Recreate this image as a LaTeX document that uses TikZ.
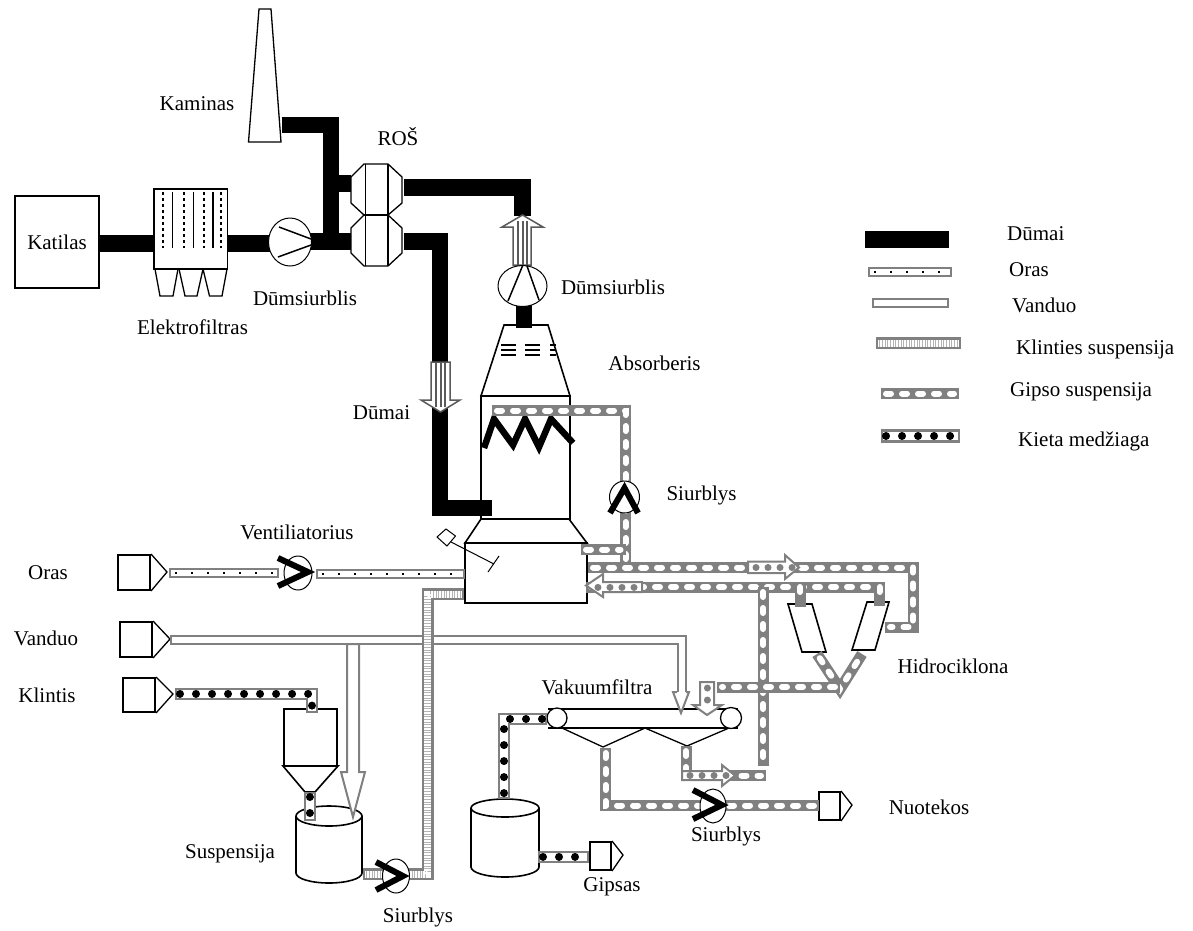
\documentclass[tikz,border=0pt]{standalone}
\usepackage{fontspec}
\setmainfont{Liberation Serif}
\usetikzlibrary{shapes.geometric}
\definecolor{pipegray}{HTML}{808080}
\definecolor{checkgray}{HTML}{B4B4B4}
\definecolor{stripegray}{HTML}{5A5A5A}

\begin{document}
\begin{tikzpicture}[
    x=1pt, y=-1pt,
    every node/.style={font=\fontsize{21}{23}\selectfont},
    vessel/.style={draw=black, line width=1.6pt, line join=miter},
    thinvessel/.style={draw=black, line width=1pt},
    sourcebox/.style={rectangle, draw=black, line width=2pt, inner sep=0pt},
    pumpbody/.style={ellipse, draw=black, fill=white, line width=1pt, inner sep=0pt},
    impeller/.style={black, line width=6pt, line join=miter},
    smokepipe/.style={black, line width=16.5pt},
    airpipe/.style={pipegray, line width=10pt,
      postaction={draw=white, line width=6pt, shorten >=2pt, shorten <=2pt},
      postaction={draw=black, line width=2pt, dash pattern=on 2pt off 14pt, dash phase=-6pt}},
    waterpipe/.style={pipegray, line width=10pt,
      postaction={draw=white, line width=6pt, shorten >=2pt, shorten <=2pt}},
    limepipe/.style={pipegray, line width=12pt,
      postaction={draw=checkgray, line width=7pt, shorten >=2pt, shorten <=2pt},
      postaction={draw=white, line width=7pt, shorten >=2pt, shorten <=2pt, dash pattern=on 0.7pt off 0.9pt}},
    gypsumpipe/.style={pipegray, line width=11pt,
      postaction={draw=white, line width=6pt, line cap=round, shorten >=5pt, shorten <=5pt, dash pattern=on 5pt off 11pt}},
    solidpipe/.style={pipegray, line width=12pt,
      postaction={draw=white, line width=8pt, shorten >=2pt, shorten <=2pt},
      postaction={draw=black, line cap=round, line width=8pt, shorten >=5pt, shorten <=5pt, dash pattern=on 0.01pt off 16pt}},
    flowarrow/.style={draw=pipegray, fill=white, line width=2pt, line join=miter},
    flowdots/.style={pipegray, line width=7pt, line cap=round, dash pattern=on 0.01pt off 12pt}
]
\useasboundingbox (0,0) rectangle (1193,930);

% Chimney
\draw[thinvessel, line width=1.3pt] (259,9) -- (271,9) -- (281,142) -- (248.5,142) -- cycle;

% Boiler
\node[sourcebox, minimum width=84pt, minimum height=92pt] (katilas) at (57,242) {Katilas};

% Electrostatic filter
\draw[thinvessel, line width=1.3pt] (154,189) rectangle (227.5,269);
\foreach \x in {163,184,204,221}
  \draw[black, line width=1.2pt, dashed] (\x,192) -- (\x,248);
\foreach \x in {172.5,193.5,213}
  \draw[black, line width=1.6pt] (\x,192) -- (\x,248);
\foreach \xa/\xb/\xc/\xd in {155/178/173/160,179/203/197/185,203/227/222/209.5}
  \draw[thinvessel, line width=1.3pt] (\xa,269) -- (\xd,296) -- (\xc,296) -- (\xb,269);

% Gas heater
\draw[thinvessel, line width=1.3pt] (364,164) -- (388,164) -- (402,177) -- (402,203) -- (388,215) -- (402,228)
  -- (402,253) -- (388,266) -- (364,266) -- (351,253) -- (351,228) -- (364,215) -- (351,203) -- (351,177) -- cycle;
\draw[thinvessel, line width=1.3pt] (364,215) -- (388,215);
\draw[thinvessel, line width=1.3pt] (365.5,164) -- (365.5,266);
\draw[thinvessel, line width=1.3pt] (388,164) -- (388,266);

% Absorber
\draw[vessel] (504,325) -- (548,325) -- (570,396) -- (481,396) -- cycle;
\draw[vessel] (481,396) rectangle (570,519);
\draw[vessel] (481,519) -- (465,543) -- (587,543) -- (569,519);
\draw[vessel] (465,543) rectangle (587,603);
\foreach \y in {345,350,355} {
  \draw[black, line width=1.6pt] (501,\y) -- (516,\y);
  \draw[black, line width=1.6pt] (525,\y) -- (540,\y);
  \draw[black, line width=1.6pt] (550,\y) -- (556,\y);
}
\draw[black, line width=6.5pt, line join=miter] (484,448) -- (494,419) -- (513,445) -- (525,419) -- (539,447) -- (551,419) -- (573,443);

% Mixer
\draw[thinvessel] (437,537) -- (446,529) -- (455.5,536) -- (447,546) -- cycle;
\draw[thinvessel] (451,542) -- (494,564);
\draw[thinvessel] (499,556) -- (488,572);

% Silo and tanks
\draw[vessel] (284,709) rectangle (337,766);
\draw[vessel] (283,766) -- (338,766) -- (315,792) -- (305,792) -- cycle;
\draw[vessel, fill=white] (329,816) ellipse (33 and 10);
\draw[vessel] (296,816) -- (296,873) arc[start angle=180, end angle=0, x radius=33, y radius=10] -- (362,816);
\draw[vessel, fill=white] (505,808) ellipse (34 and 9);
\draw[vessel] (471,808) -- (471,867) arc[start angle=180, end angle=0, x radius=34, y radius=10] -- (539,808);

% Vacuum filter
\draw[vessel] (548,709) -- (738,709);
\draw[vessel] (548,728) -- (738,728);
\draw[thinvessel, line width=1.3pt] (562,728) -- (603,747) -- (645,728) -- (687,746) -- (729,728);
\node[circle, draw=black, fill=white, line width=1.3pt, minimum size=20pt, inner sep=0pt] (rollera) at (557,718) {};
\node[circle, draw=black, fill=white, line width=1.3pt, minimum size=21pt, inner sep=0pt] (rollerb) at (731,718) {};

% Hydrocyclones
\draw[vessel] (802,652) -- (788,604) -- (812,604) -- (826,652) -- cycle;
\draw[vessel] (852,650) -- (867,602) -- (889,602) -- (875,650) -- cycle;

% Feed and discharge units
\node[sourcebox, minimum width=32pt, minimum height=35pt] (orasbox) at (134,572.5) {};
\node[sourcebox, minimum width=32pt, minimum height=35pt] (vanduobox) at (136,639.5) {};
\node[sourcebox, minimum width=32pt, minimum height=34pt] (klintisbox) at (139,695) {};
\node[sourcebox, minimum width=21pt, minimum height=28pt] (gipsasbox) at (600.5,856) {};
\node[sourcebox, minimum width=21pt, minimum height=28pt] (nuotekosbox) at (829.5,806) {};
\foreach \n/\w/\h in {orasbox/16/18,vanduobox/17/18,klintisbox/17/17,gipsasbox/11/14,nuotekosbox/11/14}
  \draw[thinvessel, line width=1.3pt] (\n.north east) -- ++(\w,\h) -- (\n.south east);

% Smoke ducts
\coordinate (katilasout) at (99,243.5);
\coordinate (filterin) at (154,243.5);
\coordinate (filterout) at (227.5,243.5);
\coordinate (fanain) at (270,243.5);
\coordinate (fanaout) at (310,241.5);
\coordinate (heaterin) at (351,241.5);
\coordinate (heaterout) at (404,241.5);
\coordinate (absorberin) at (492,508);
\coordinate (chimneyin) at (281.5,125);
\coordinate (heatertop) at (351,183.5);
\coordinate (heatergas) at (404,187.5);
\coordinate (fanbin) at (522.5,216);
\coordinate (fanbout) at (524,305);
\coordinate (absorbertop) at (524,328);
\draw[smokepipe] (katilasout) -- (filterin);
\draw[smokepipe] (filterout) -- (fanain);
\draw[smokepipe] (fanaout) -- (heaterin);
\draw[smokepipe] (chimneyin) -| (331,250);
\draw[smokepipe] (331,183.5) -- (heatertop);
\draw[smokepipe] (heatergas) -| (fanbin);
\draw[smokepipe] (fanbout) -- (absorbertop);
\draw[smokepipe] (heaterout) -| (440,508) -- (absorberin);

% Smoke flow arrows
\draw[flowarrow, draw=stripegray, line width=1.5pt] (513,265) -- (513,227) -- (502,227) -- (522.5,215) -- (543,227) -- (531,227) -- (531,265) -- cycle;
\foreach \x in {518,522.5,527}
  \draw[stripegray, line width=2pt] (\x,221) -- (\x,265);
\draw[flowarrow, draw=stripegray, line width=1.5pt] (431,362) -- (431,400) -- (421,400) -- (440.5,412) -- (460,400) -- (450,400) -- (450,362) -- cycle;
\foreach \x in {436,440.5,445}
  \draw[stripegray, line width=2pt] (\x,362) -- (\x,407);

% Air line
\coordinate (orasout) at (169,572.5);
\coordinate (ventin) at (279,572.5);
\coordinate (ventout) at (316,573.5);
\coordinate (absorberair) at (465,573.5);
\draw[airpipe] (orasout) -- (ventin);
\draw[airpipe] (ventout) -- (absorberair);

% Water line
\coordinate (vanduoout) at (170,639.5);
\coordinate (waterfilter) at (681.5,694);
\draw[waterpipe] (vanduoout) -| (waterfilter);
\draw[flowarrow] (347,644) -- (347,772) -- (341,772) -- (353,817) -- (365,772) -- (359,772) -- (359,644) -- cycle;
\draw[flowarrow] (677,692) -- (673,692) -- (681,713) -- (689,692) -- (686,692);

% Limestone line
\coordinate (klintisout) at (175,693.5);
\coordinate (siloin) at (312,713);
\coordinate (siloout) at (309.5,792);
\coordinate (tankin) at (309.5,821);
\draw[solidpipe] (klintisout) -| (siloin);
\draw[solidpipe] (siloout) -- (tankin);

% Limestone slurry line
\coordinate (tankout) at (363,874);
\coordinate (absorberlime) at (464,594);
\draw[limepipe] (tankout) -| (427.5,594) -- (absorberlime);

% Recirculation
\coordinate (sprayend) at (492,410.5);
\coordinate (absorberback) at (581,549.5);
\draw[gypsumpipe] (sprayend) -| (625.5,567.5);
\draw[gypsumpipe] (absorberback) -- (625.5,549.5);

% Gypsum slurry to hydrocyclones
\coordinate (absorberout) at (588,567.5);
\coordinate (cycloneback) at (885,627);
\coordinate (absorberret) at (586,587);
\coordinate (cyclonea) at (800,607);
\coordinate (cycloneb) at (879.5,606);
\coordinate (drain) at (763,766);
\draw[gypsumpipe] (absorberout) -| (913,627) -- (cycloneback);
\draw[gypsumpipe] (absorberret) -- (885,587);
\draw[gypsumpipe] (879.5,582) -- (cycloneb);
\draw[gypsumpipe] (800,582) -- (cyclonea);
\draw[gypsumpipe] (763,587) -- (drain);

% Hydrocyclone underflow
\coordinate (cyclonelefta) at (817,654);
\coordinate (cycloneleftb) at (862,654);
\coordinate (underflow) at (840,687);
\draw[gypsumpipe] (cyclonelefta) -- (840,689) -- (cycloneleftb);
\draw[gypsumpipe] (underflow) -- (717,687);

% Vacuum filter lines
\coordinate (filterdrainA) at (605.5,748);
\coordinate (filterdrainB) at (686,746);
\coordinate (bottomend) at (766,775.5);
\coordinate (nuotekosin) at (819,805.5);
\draw[gypsumpipe] (filterdrainA) |- (nuotekosin);
\draw[gypsumpipe] (filterdrainB) |- (bottomend);
\coordinate (filtersolid) at (547,719);
\coordinate (gipsastank) at (504,799);
\coordinate (gipsastankout) at (538,856.5);
\coordinate (gipsasin) at (589,856.5);
\draw[solidpipe] (filtersolid) -| (gipsastank);
\draw[solidpipe] (gipsastankout) -- (gipsasin);

% Slurry flow arrows
\draw[flowarrow] (748,561.5) -- (785,561.5) -- (785,555) -- (799,567.5) -- (785,579) -- (785,573) -- (748,573) -- cycle;
\draw[flowdots] (756,567.5) -- (793,567.5);
\draw[flowarrow] (642,582) -- (603,582) -- (603,574) -- (586,585.5) -- (603,597) -- (603,592) -- (642,592) -- cycle;
\draw[flowdots] (634,587) -- (594,587);
\draw[flowarrow] (700,682) -- (700,705) -- (693,705) -- (707,715) -- (722,705) -- (714,705) -- (714,682) -- cycle;
\draw[flowdots] (707,688) -- (707,709);
\draw[flowarrow] (682,771) -- (722,771) -- (722,765) -- (735,775.5) -- (722,786) -- (722,780) -- (682,780) -- cycle;
\draw[flowdots] (690,775.5) -- (728,775.5);

% Pumps
\node[pumpbody, minimum width=43pt, minimum height=48pt] (fana) at (290,242) {};
\draw[black, line width=1.5pt] (279,227) -- (311,239);
\draw[black, line width=1.5pt] (278,257) -- (311,245);
\node[pumpbody, minimum width=49pt, minimum height=41pt] (fanb) at (522.5,286) {};
\draw[black, line width=1.5pt] (508,301) -- (522.5,266);
\draw[black, line width=1.5pt] (527,266) -- (539,300);
\node[pumpbody, minimum width=30pt, minimum height=32pt] (pumpa) at (624.5,497) {};
\draw[impeller] (610,513) -- (624.5,488) -- (638,513);
\node[pumpbody, minimum width=28pt, minimum height=34pt] (ventil) at (298,573) {};
\draw[impeller] (278,558) -- (308,572) -- (278,586);
\node[pumpbody, minimum width=27pt, minimum height=34pt] (pumpb) at (396,876) {};
\draw[impeller] (376,862) -- (403,876) -- (376,890);
\node[pumpbody, minimum width=26pt, minimum height=34pt] (pumpc) at (713,806) {};
\draw[impeller] (693,790) -- (722,805) -- (693,819);

% Labels
\node (kaminas) at (197,104) {Kaminas};
\node (ros) at (398,137) {ROŠ};
\node (elektrofiltras) at (192.5,327) {Elektrofiltras};
\node (dumsiurblisa) at (305,298) {Dūmsiurblis};
\node (dumsiurblisb) at (613,287) {Dūmsiurblis};
\node (absorberis) at (654.5,363) {Absorberis};
\node (dumai) at (381.5,413) {Dūmai};
\node (siurblysa) at (701.5,495) {Siurblys};
\node (ventiliatorius) at (297,532) {Ventiliatorius};
\node (oras) at (48,573) {Oras};
\node (vanduo) at (46,638) {Vanduo};
\node (klintis) at (47,695) {Klintis};
\node (suspensija) at (230,854) {Suspensija};
\node (siurblysb) at (418,917) {Siurblys};
\node (vakuumfiltra) at (597,687) {Vakuumfiltra};
\node (siurblysc) at (726,836) {Siurblys};
\node (gipsas) at (612,887) {Gipsas};
\node (nuotekos) at (929,807) {Nuotekos};
\node (hidrociklona) at (953,666) {Hidrociklona};

% Legend
\draw[black, line width=17pt] (865,239.5) -- (949,239.5);
\draw[airpipe] (868,272) -- (952,272);
\draw[waterpipe] (872,303) -- (949,303);
\draw[limepipe] (876,343) -- (961,343);
\draw[gypsumpipe] (881,393.5) -- (959,393.5);
\draw[solidpipe, line width=14pt] (881,436) -- (960,436);
\node[anchor=west, inner sep=0pt] (legdumai) at (1007,234) {Dūmai};
\node[anchor=west, inner sep=0pt] (legoras) at (1009,270) {Oras};
\node[anchor=west, inner sep=0pt] (legvanduo) at (1012,305) {Vanduo};
\node[anchor=west, inner sep=0pt] (legklinties) at (1016,349) {Klinties suspensija};
\node[anchor=west, inner sep=0pt] (leggipso) at (1010,392) {Gipso suspensija};
\node[anchor=west, inner sep=0pt] (legkieta) at (1018,441) {Kieta medžiaga};

\end{tikzpicture}
\end{document}
